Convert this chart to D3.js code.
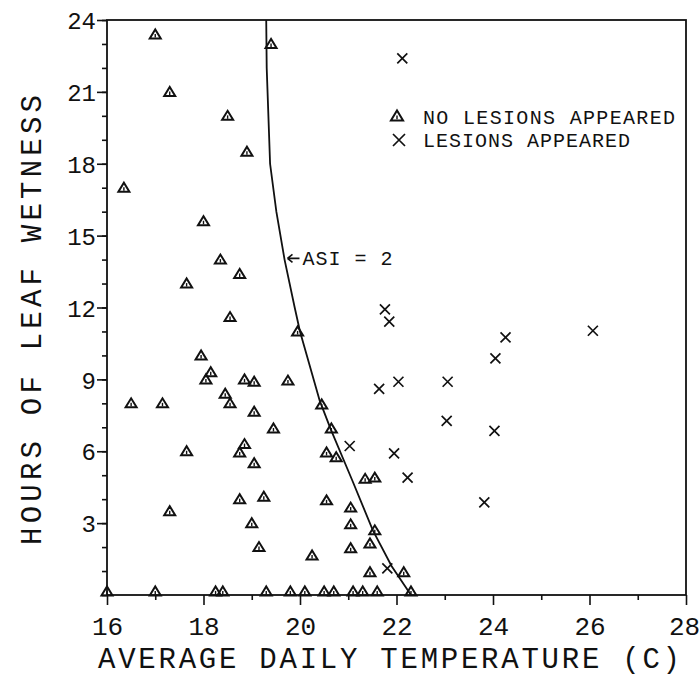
<!doctype html>
<html lang="en">
<head>
    <meta charset="UTF-8">
    <title>ASI = 2</title>
    <style>
        body { margin: 0; background: #fff; }
        text { font-family: "Liberation Mono", "DejaVu Sans Mono", monospace; fill: #111; }
        .tick line { stroke: #111; stroke-width: 1.6; }
    </style>
</head>
<body>
<div class="chart"></div>

<script src="https://cdn.jsdelivr.net/npm/d3@7"></script>
<script>
	// [temperature (C), hours of leaf wetness]
	const noLesions = [
		[17.0, 23.4], [19.4, 23.0], [17.3, 21.0], [18.5, 20.0], [18.9, 18.5],
		[16.35, 17.0], [18.0, 15.6], [18.35, 14.0], [18.75, 13.4], [17.65, 13.0],
		[18.55, 11.6], [19.95, 11.0], [17.95, 10.0], [18.15, 9.3], [18.05, 9.0],
		[18.85, 9.0], [19.05, 8.9], [19.75, 8.95], [18.45, 8.4], [16.5, 8.0],
		[17.15, 8.0], [18.55, 8.0], [19.05, 7.65], [19.45, 6.95], [18.85, 6.3],
		[18.75, 5.95], [19.05, 5.5], [17.65, 6.0], [18.75, 4.0], [19.25, 4.1],
		[17.3, 3.5], [19.0, 3.0], [19.15, 2.0], [20.45, 7.95], [20.65, 6.95],
		[20.55, 5.95], [20.75, 5.75], [21.35, 4.85], [21.55, 4.9], [20.55, 3.95],
		[21.05, 3.65], [21.05, 2.95], [21.55, 2.7], [21.45, 2.15], [21.05, 1.95],
		[20.25, 1.65], [21.45, 0.95], [22.15, 0.95],
		[16.0, 0.15], [17.0, 0.15], [18.25, 0.15], [18.4, 0.15], [19.3, 0.15],
		[19.8, 0.15], [20.1, 0.15], [20.5, 0.15], [20.7, 0.15], [21.1, 0.15],
		[21.3, 0.15], [21.6, 0.15], [22.3, 0.15]
	]
	const lesions = [
		[22.12, 22.4], [21.76, 11.92], [21.85, 11.41], [26.07, 11.03], [24.26, 10.75],
		[24.05, 9.88], [22.04, 8.9], [23.06, 8.9], [21.64, 8.6], [23.04, 7.27],
		[24.03, 6.85], [21.03, 6.22], [21.95, 5.91], [22.23, 4.9], [23.82, 3.87],
		[21.81, 1.11]
	]
	// ASI = 2 boundary curve
	const asiCurve = [
		[19.3, 24], [19.31, 22], [19.38, 18], [19.51, 16], [19.68, 14], [19.89, 12],
		[20.0, 11], [20.41, 8.1], [20.64, 6.9], [21.08, 4.8], [21.51, 2.7],
		[21.9, 1.2], [22.3, 0]
	]
	const xMajor = [16, 18, 20, 22, 24, 26, 28]
	const xMinor = [17, 19, 21, 23, 25, 27]
	const yMajor = [3, 6, 9, 12, 15, 18, 21, 24]
	const yMinor = d3.range(0, 25)

	const width = 700, height = 676
	const plot = { left: 107, right: 686, top: 20, bottom: 595 }

	const svg = d3.select('.chart')
		.append('svg')
		.attr('width', width)
		.attr('height', height)

	const x = d3.scaleLinear().domain([16, 28]).range([plot.left, plot.right])
	const y = d3.scaleLinear().domain([0, 24]).range([plot.bottom, plot.top])

	// frame
	svg.append('rect')
		.attr('x', plot.left)
		.attr('y', plot.top)
		.attr('width', plot.right - plot.left)
		.attr('height', plot.bottom - plot.top)
		.attr('fill', 'none')
		.attr('stroke', '#111')
		.attr('stroke-width', 1.8)

	// x axis
	svg.append('g')
		.attr('transform', 'translate(0,' + plot.bottom + ')')
		.call(d3.axisBottom(x).tickValues(xMinor).tickSize(5).tickFormat(''))
	const xMajorG = svg.append('g')
		.attr('transform', 'translate(0,' + plot.bottom + ')')
		.call(d3.axisBottom(x).tickValues(xMajor).tickSize(10).tickFormat(d3.format('d')))
	xMajorG.selectAll('text')
		.attr('y', 40)
		.attr('dy', 0)
		.style('font-size', '26px')
	xMajorG.selectAll('.tick:last-of-type text').attr('x', -2)

	// y axis
	svg.append('g')
		.attr('transform', 'translate(' + plot.left + ',0)')
		.call(d3.axisLeft(y).tickValues(yMinor).tickSize(5).tickFormat(''))
	const yMajorG = svg.append('g')
		.attr('transform', 'translate(' + plot.left + ',0)')
		.call(d3.axisLeft(y).tickValues(yMajor).tickSize(10).tickFormat(d3.format('d')))
	yMajorG.selectAll('text')
		.attr('x', -11)
		.attr('dy', '0.36em')
		.style('font-size', '24px')
	svg.selectAll('.domain').remove()

	// axis titles
	svg.append('text')
		.attr('x', 98)
		.attr('y', 668)
		.attr('textLength', 582)
		.attr('lengthAdjust', 'spacing')
		.style('font-size', '29px')
		.text('AVERAGE DAILY TEMPERATURE (C)')

	svg.append('text')
		.attr('transform', 'translate(41,320) rotate(-90)')
		.attr('text-anchor', 'middle')
		.attr('textLength', 450)
		.attr('lengthAdjust', 'spacing')
		.style('font-size', '29px')
		.text('HOURS OF LEAF WETNESS')

	// ASI curve
	svg.append('path')
		.datum(asiCurve)
		.attr('fill', 'none')
		.attr('stroke', '#111')
		.attr('stroke-width', 1.8)
		.attr('d', d3.line().x(d => x(d[0])).y(d => y(d[1])))

	// markers
	const triPath = 'M-5.5,4 L5.5,4 L0,-5 Z'
	const drawTri = (g, s) => {
		g.append('path').attr('d', triPath).attr('transform', 'scale(' + s + ')')
			.attr('fill', 'none').attr('stroke', '#111').attr('stroke-width', 2 / s)
			.attr('stroke-linejoin', 'miter')
		g.append('line').attr('x1', 0).attr('x2', 0).attr('y1', -0.5 * s).attr('y2', 3 * s)
			.attr('stroke', '#111').attr('stroke-width', 1.4)
	}
	const drawCross = (g, r) => {
		g.append('path').attr('d', 'M' + -r + ',' + -r + 'L' + r + ',' + r + 'M' + -r + ',' + r + 'L' + r + ',' + -r)
			.attr('stroke', '#111').attr('stroke-width', 1.7).attr('fill', 'none')
	}

	svg.append('g').selectAll('g')
		.data(noLesions)
		.enter().append('g')
		.attr('transform', d => 'translate(' + x(d[0]) + ',' + y(d[1]) + ')')
		.each(function() { drawTri(d3.select(this), 1) })

	svg.append('g').selectAll('g')
		.data(lesions)
		.enter().append('g')
		.attr('transform', d => 'translate(' + x(d[0]) + ',' + y(d[1]) + ')')
		.each(function() { drawCross(d3.select(this), 5) })

	// legend
	const legend = svg.append('g')
	const lt = legend.append('g').attr('transform', 'translate(397,116)')
	drawTri(lt, 1.1)
	legend.append('text')
		.attr('x', 423).attr('y', 123.5)
		.attr('textLength', 252).attr('lengthAdjust', 'spacing')
		.style('font-size', '20px')
		.text('NO LESIONS APPEARED')
	const lc = legend.append('g').attr('transform', 'translate(399,140)')
	drawCross(lc, 6)
	legend.append('text')
		.attr('x', 423).attr('y', 147)
		.attr('textLength', 207).attr('lengthAdjust', 'spacing')
		.style('font-size', '20px')
		.text('LESIONS APPEARED')

	// ASI label with arrow
	const ax = x(19.72) + 1, ay = y(14.05)
	const ann = svg.append('g').attr('transform', 'translate(' + ax + ',' + ay + ')')
	ann.append('path')
		.attr('d', 'M0,0 L12,0 M0,0 L5,-4 M0,0 L5,4')
		.attr('stroke', '#111').attr('stroke-width', 1.6).attr('fill', 'none')
	ann.append('text')
		.attr('x', 15).attr('y', 7)
		.attr('textLength', 90).attr('lengthAdjust', 'spacing')
		.style('font-size', '20px')
		.text('ASI = 2')
</script>
</body>
</html>
